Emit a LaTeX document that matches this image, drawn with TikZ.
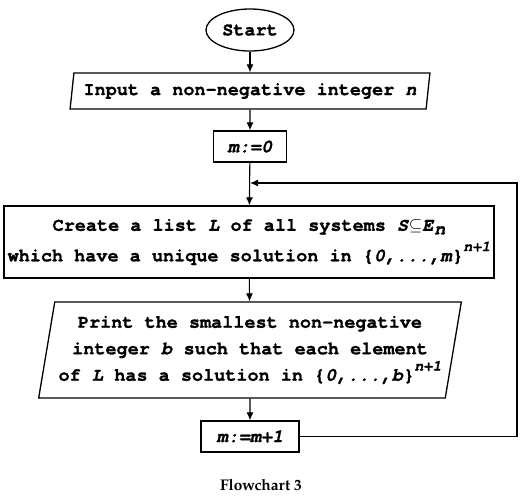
\documentclass[tikz,border=0pt]{standalone}
\usepackage{fontspec}
\setmonofont{texgyrecursor}[Extension=.otf, UprightFont=*-regular, BoldFont=*-bold, ItalicFont=*-italic, BoldItalicFont=*-bolditalic, BoldFeatures={FakeBold=1.2}, BoldItalicFeatures={FakeBold=1.2}]
\newfontfamily\captionfont{texgyrepagella}[Extension=.otf, UprightFont=*-regular, BoldFont=*-bold]
\usetikzlibrary{positioning}
\usetikzlibrary{shapes.geometric}
\usetikzlibrary{arrows.meta}
\newcommand{\flowfont}{\fontsize{18.5}{26.5}\selectfont\ttfamily\bfseries}
\newcommand{\powtext}[1]{\raisebox{0.55em}{\fontsize{15}{15}\selectfont\textit{#1}}}
\newcommand{\subtext}[1]{\raisebox{-0.2em}{\textit{#1}}}
\tikzset{
    startstop/.style = {ellipse, draw, line width=1.3pt, minimum width=88pt, minimum height=42pt, inner sep=0pt, font=\flowfont},
    io/.style = {trapezium, trapezium left angle=77, trapezium right angle=103, trapezium stretches=true, draw, line width=1.3pt, inner sep=0pt, font=\flowfont, align=center},
    process/.style = {rectangle, draw, line width=1.3pt, inner sep=0pt, font=\flowfont, align=center},
    flow/.style = {line width=1.1pt, -{Latex[length=8pt,width=7pt]}}
}

\begin{document}
\begin{tikzpicture}[x=1pt, y=-1pt]
    \useasboundingbox (0,0) rectangle (527,499);
    % Boxes of the flowchart
    \node [startstop] (start) at (250, 30) {Start};
    \node [io, minimum width=361pt, minimum height=36pt] (input) at (250, 91) {Input a non-negative integer \textit{n}};
    \node [process, minimum width=73pt, minimum height=31pt] (mzero) at (250, 146.5) {\textit{m:=0}};
    \node [process, minimum width=490pt, minimum height=72pt] (create) at (249, 242) {Create a list \textit{L} of all systems \textit{S}$\subseteq$\textit{E}\subtext{n}\\[4pt]which have a unique solution in \{\textit{0,...,m}\}\powtext{n+1}};
    \node [io, minimum width=423pt, minimum height=96pt] (print) at (250, 350) {Print the smallest non-negative\\integer \textit{b} such that each element\\of \textit{L} has a solution in \{\textit{0,...,b}\}\powtext{n+1}};
    \node [process, minimum width=98pt, minimum height=31pt] (minc) at (250, 436.5) {\textit{m:=m+1}};
    \node [font=\captionfont\fontsize{15.5}{18}\selectfont\bfseries] (caption) at (261, 485) {Flowchart 3};
    % Loop back corners
    \coordinate (loopright) at (517, 183);
    \coordinate (loopin) at (250, 183);
    % Connectors
    \draw [flow] (start) to (input);
    \draw [flow] (input) to (mzero);
    \draw [flow] (mzero) to (create);
    \draw [flow] (create) to (print);
    \draw [flow] (print) to (minc);
    \draw [flow] (minc.east) -| (loopright) to (loopin);
\end{tikzpicture}
\end{document}
